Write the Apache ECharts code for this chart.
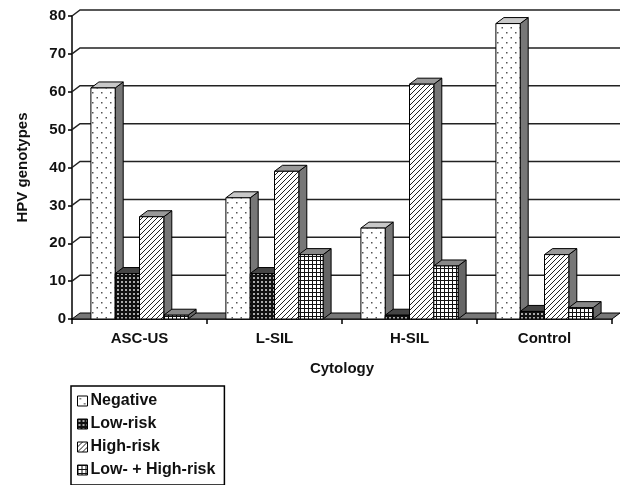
<!DOCTYPE html>
<html>
<head>
<meta charset="utf-8">
<script src="https://cdn.jsdelivr.net/npm/echarts@6/dist/echarts.min.js"></script>
<style>
html,body{margin:0;padding:0;background:#fff;}
#chart{width:623px;height:485px;}
</style>
</head>
<body>
<div id="chart"></div>
<script>
const categories = ['ASC-US', 'L-SIL', 'H-SIL', 'Control'];
const negative = [61, 32, 24, 78];
const lowRisk = [12, 12, 1, 2];
const highRisk = [27, 39, 62, 17];
const lowHighRisk = [1, 17, 14, 3];
const seriesNames = ['Negative', 'Low-risk', 'High-risk', 'Low- + High-risk'];
const yTicks = [0, 10, 20, 30, 40, 50, 60, 70, 80];

const FONT = '"Liberation Sans", Arial, Helvetica, sans-serif';
const DX = 8, DY = -6;

function makeCanvas(w, h, draw) {
  const c = document.createElement('canvas');
  c.width = w; c.height = h;
  const ctx = c.getContext('2d');
  draw(ctx, w, h);
  return c;
}
const patDots = makeCanvas(9, 10, (ctx) => {
  ctx.fillStyle = '#fff'; ctx.fillRect(0, 0, 9, 10);
  ctx.fillStyle = '#555';
  ctx.fillRect(2, 2, 1.5, 1.5);
  ctx.fillRect(6.5, 7, 1.5, 1.5);
});
const patDense = makeCanvas(4, 4, (ctx) => {
  ctx.fillStyle = '#111'; ctx.fillRect(0, 0, 4, 4);
  ctx.fillStyle = '#aaa'; ctx.fillRect(1, 1, 2, 2);
});
const patDiag = makeCanvas(5, 5, (ctx) => {
  ctx.fillStyle = '#fff'; ctx.fillRect(0, 0, 5, 5);
  ctx.strokeStyle = '#222'; ctx.lineWidth = 1;
  ctx.beginPath();
  ctx.moveTo(-1, 6); ctx.lineTo(6, -1);
  ctx.moveTo(-1, 1); ctx.lineTo(1, -1);
  ctx.moveTo(4, 6); ctx.lineTo(6, 4);
  ctx.stroke();
});
const patGrid = makeCanvas(4, 4, (ctx) => {
  ctx.fillStyle = '#fff'; ctx.fillRect(0, 0, 4, 4);
  ctx.fillStyle = '#111';
  ctx.fillRect(0, 0, 4, 1);
  ctx.fillRect(0, 0, 1, 4);
});
const patterns = [patDots, patDense, patDiag, patGrid];
const topColors = ['#c8c8c8', '#444', '#999', '#888'];
const sideColors = ['#777', '#333', '#777', '#666'];
const values = [negative, lowRisk, highRisk, lowHighRisk];

function barRender(s) {
  return function (params, api) {
    const cat = api.value(0), v = api.value(1);
    const base = api.coord([cat, 0]);
    const top = api.coord([cat, v]);
    const band = api.size([1, 0])[0];
    const gw = band * 0.72, bw = gw / 4;
    const x0 = base[0] - gw / 2 + s * bw, x1 = x0 + bw;
    const yT = top[1], yB = base[1];
    const stroke = { stroke: '#000', lineWidth: 1 };
    return {
      type: 'group',
      children: [
        { type: 'polygon', shape: { points: [[x1, yT], [x1 + DX, yT + DY], [x1 + DX, yB + DY], [x1, yB]] },
          style: Object.assign({ fill: sideColors[s] }, stroke) },
        { type: 'polygon', shape: { points: [[x0, yT], [x0 + DX, yT + DY], [x1 + DX, yT + DY], [x1, yT]] },
          style: Object.assign({ fill: topColors[s] }, stroke) },
        { type: 'rect', shape: { x: x0, y: yT, width: bw, height: yB - yT },
          style: Object.assign({ fill: { image: patterns[s], repeat: 'repeat' } }, stroke) }
      ]
    };
  };
}

function wallRender(params, api) {
  const cs = params.coordSys;
  const left = cs.x, right = cs.x + cs.width;
  const y0 = api.coord([0, 0])[1];
  const children = [];
  yTicks.forEach(t => {
    if (t === 0) return;
    const y = api.coord([0, t])[1];
    children.push({ type: 'polyline', shape: { points: [[left, y], [left + DX, y + DY], [right + DX, y + DY]] },
      style: { stroke: '#222', lineWidth: 1.5, fill: null } });
  });
  children.push({ type: 'polygon', shape: { points: [[left, y0], [right, y0], [right + DX, y0 + DY], [left + DX, y0 + DY]] },
    style: { fill: '#777', stroke: '#000', lineWidth: 1 } });
  return { type: 'group', children };
}

const chart = echarts.init(document.getElementById('chart'), null, { renderer: 'canvas' });

const series = [{
  type: 'custom', name: '_wall', silent: true, renderItem: wallRender,
  data: [[0, 0]], encode: { x: 0, y: 1 }, z: 1
}];
seriesNames.forEach((n, s) => {
  series.push({
    type: 'custom', name: n, renderItem: barRender(s), z: 2 + s,
    itemStyle: { color: { image: patterns[s], repeat: 'repeat' }, borderColor: '#000', borderWidth: 1 },
    data: categories.map((c, i) => [i, values[s][i]]),
    encode: { x: 0, y: 1 }
  });
});

chart.setOption({
  animation: false,
  backgroundColor: '#fff',
  grid: { left: 72, right: 11, top: 16, bottom: 166 },
  xAxis: {
    type: 'category', data: categories,
    name: 'Cytology', nameLocation: 'middle', nameGap: 42,
    nameTextStyle: { fontFamily: FONT, fontWeight: 'bold', fontSize: 15, color: '#111' },
    axisLine: { lineStyle: { color: '#000', width: 1.5 } },
    axisTick: { show: true, length: 5, lineStyle: { color: '#000', width: 1.5 } },
    axisLabel: { fontFamily: FONT, fontWeight: 'bold', fontSize: 15, color: '#111', margin: 12 }
  },
  yAxis: {
    type: 'value', min: 0, max: 80, interval: 10,
    name: 'HPV genotypes', nameLocation: 'middle', nameGap: 42,
    nameTextStyle: { fontFamily: FONT, fontWeight: 'bold', fontSize: 15, color: '#111' },
    axisLine: { show: true, lineStyle: { color: '#000', width: 1.5 } },
    axisTick: { show: true, length: 4, lineStyle: { color: '#000', width: 1.5 } },
    axisLabel: { fontFamily: FONT, fontWeight: 'bold', fontSize: 15, color: '#111', margin: 6 },
    splitLine: { show: false }
  },
  legend: {
    data: seriesNames, orient: 'vertical', left: 71, top: 386,
    icon: 'rect', itemWidth: 10, itemHeight: 10, itemGap: 7,
    padding: [7, 9, 7, 6],
    borderColor: '#000', borderWidth: 1.5,
    itemStyle: { borderColor: '#000', borderWidth: 1 },
    textStyle: { fontFamily: FONT, fontWeight: 'bold', fontSize: 16, color: '#111', padding: [0, 0, 0, -2] }
  },
  series: series
});
</script>
</body>
</html>
